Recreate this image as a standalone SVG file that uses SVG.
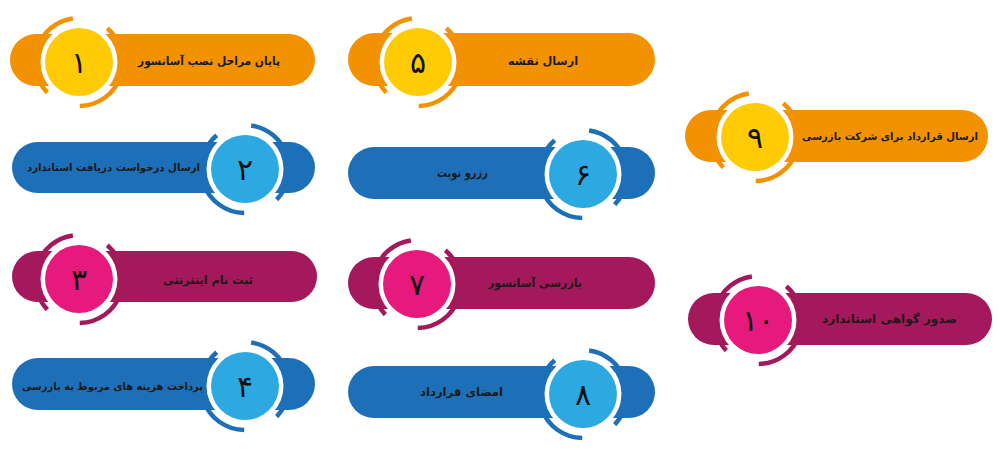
<svg xmlns="http://www.w3.org/2000/svg" xmlns:xlink="http://www.w3.org/1999/xlink" width="1000" height="452" viewBox="0 0 1000 452">
<style>
.o{fill:#F39200}.oa{stroke:#F39200}.oc{fill:#FFCB05}
.b{fill:#1D70B7}.ba{stroke:#1D70B7}.bc{fill:#2DA9E1}
.m{fill:#A3195B}.ma{stroke:#A3195B}.mc{fill:#E6197C}
.w{fill:#ffffff}
.lbl{font-family:"DejaVu Sans",sans-serif;font-weight:bold;font-size:11.5px;fill:#1a1a1a;text-anchor:middle;dominant-baseline:central}
.sm{font-size:10.5px}
.num{font-family:"DejaVu Sans",sans-serif;font-size:30px;fill:#111;text-anchor:middle;dominant-baseline:central}
</style>
<defs>
<path id="ring" d="M-31.65,30.57 A44,44 0 0 1 -6.12,-43.57 M28.28,-33.71 A44,44 0 0 1 0.77,43.99" fill="none" stroke-width="4.5"/>
</defs>
<rect width="1000" height="452" fill="#ffffff"/>
<g id="connectors"></g>

<g id="node-1">
<use xlink:href="#ring" class="oa" transform="translate(79,62)"/>
<rect class="o" x="10" y="34" width="305" height="52" rx="26"/>
<circle class="w" cx="79" cy="62" r="38.5"/>
<circle class="oc" cx="79" cy="62" r="34"/>
<text class="num" x="79" y="62">۱</text>
<text class="lbl" x="209" y="61" textLength="142" lengthAdjust="spacingAndGlyphs">پایان مراحل نصب آسانسور</text>
</g>

<g id="node-2">
<use xlink:href="#ring" class="ba" transform="translate(245,169) scale(-1,1)"/>
<rect class="b" x="12" y="142" width="303" height="51" rx="25.5"/>
<circle class="w" cx="245" cy="169" r="38.5"/>
<circle class="bc" cx="245" cy="169" r="34"/>
<text class="num" x="245" y="169">۲</text>
<text class="lbl sm" x="113.5" y="167" textLength="173" lengthAdjust="spacingAndGlyphs">ارسال درخواست دریافت استاندارد</text>
</g>

<g id="node-3">
<use xlink:href="#ring" class="ma" transform="translate(79,279)"/>
<rect class="m" x="12" y="251" width="305" height="51" rx="25.5"/>
<circle class="w" cx="79" cy="279" r="38.5"/>
<circle class="mc" cx="79" cy="279" r="34"/>
<text class="num" x="79" y="279">۳</text>
<text class="lbl" x="208" y="280" textLength="90" lengthAdjust="spacingAndGlyphs">ثبت نام اینترنتی</text>
</g>

<g id="node-4">
<use xlink:href="#ring" class="ba" transform="translate(245,386) scale(-1,1)"/>
<rect class="b" x="12" y="358" width="303" height="52" rx="26"/>
<circle class="w" cx="245" cy="386" r="38.5"/>
<circle class="bc" cx="245" cy="386" r="34"/>
<text class="num" x="245" y="386">۴</text>
<text class="lbl sm" x="112.5" y="386" textLength="181" lengthAdjust="spacingAndGlyphs">پرداخت هزینه های مربوط به بازرسی</text>
</g>

<g id="node-5">
<use xlink:href="#ring" class="oa" transform="translate(418,62)"/>
<rect class="o" x="348" y="33" width="307" height="53" rx="26.5"/>
<circle class="w" cx="418" cy="62" r="38.5"/>
<circle class="oc" cx="418" cy="62" r="34"/>
<text class="num" x="418" y="62">۵</text>
<text class="lbl" x="543" y="61" textLength="70" lengthAdjust="spacingAndGlyphs">ارسال نقشه</text>
</g>

<g id="node-6">
<use xlink:href="#ring" class="ba" transform="translate(583,174) scale(-1,1)"/>
<rect class="b" x="348" y="147" width="307" height="52" rx="26"/>
<circle class="w" cx="583" cy="174" r="38.5"/>
<circle class="bc" cx="583" cy="174" r="34"/>
<text class="num" x="583" y="174">۶</text>
<text class="lbl" x="462.5" y="173" textLength="51" lengthAdjust="spacingAndGlyphs">رزرو نوبت</text>
</g>

<g id="node-7">
<use xlink:href="#ring" class="ma" transform="translate(417,284)"/>
<rect class="m" x="348" y="257" width="307" height="52" rx="26"/>
<circle class="w" cx="417" cy="284" r="38.5"/>
<circle class="mc" cx="417" cy="284" r="34"/>
<text class="num" x="417" y="284">۷</text>
<text class="lbl" x="535" y="283" textLength="94" lengthAdjust="spacingAndGlyphs">بازرسی آسانسور</text>
</g>

<g id="node-8">
<use xlink:href="#ring" class="ba" transform="translate(583,394) scale(-1,1)"/>
<rect class="b" x="348" y="366" width="307" height="52" rx="26"/>
<circle class="w" cx="583" cy="394" r="38.5"/>
<circle class="bc" cx="583" cy="394" r="34"/>
<text class="num" x="583" y="394">۸</text>
<text class="lbl" x="461.5" y="392" textLength="83" lengthAdjust="spacingAndGlyphs">امضای قرارداد</text>
</g>

<g id="node-9">
<use xlink:href="#ring" class="oa" transform="translate(755,137)"/>
<rect class="o" x="685" y="110" width="303" height="52" rx="26"/>
<circle class="w" cx="755" cy="137" r="38.5"/>
<circle class="oc" cx="755" cy="137" r="34"/>
<text class="num" x="755" y="137">۹</text>
<text class="lbl sm" x="890" y="136" textLength="176" lengthAdjust="spacingAndGlyphs">ارسال قرارداد برای شرکت بازرسی</text>
</g>

<g id="node-10">
<use xlink:href="#ring" class="ma" transform="translate(758,320)"/>
<rect class="m" x="688" y="293" width="304" height="52" rx="26"/>
<circle class="w" cx="758" cy="320" r="38.5"/>
<circle class="mc" cx="758" cy="320" r="34"/>
<text class="num" x="758" y="320">۱۰</text>
<text class="lbl" x="889.5" y="319" textLength="135" lengthAdjust="spacingAndGlyphs">صدور گواهی استاندارد</text>
</g>
</svg>
